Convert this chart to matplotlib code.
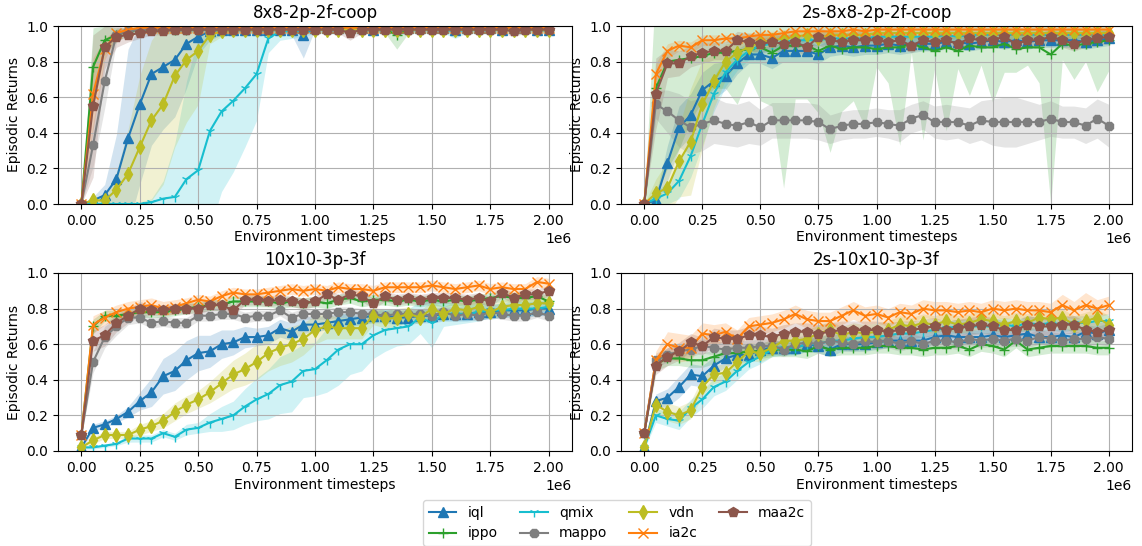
import matplotlib
matplotlib.use("Agg")
import matplotlib.pyplot as plt
import numpy as np

# x grid: evaluation every 50k env steps
STEPS = np.arange(0, 2_000_001, 50_000)

ALGOS = ["iql", "ippo", "qmix", "mappo", "vdn", "ia2c", "maa2c"]
COLORS = {
    "iql": "tab:blue", "ippo": "tab:green", "qmix": "tab:cyan", "mappo": "tab:gray",
    "vdn": "tab:olive", "ia2c": "tab:orange", "maa2c": "tab:brown",
}
MARKERS = {"iql": "^", "ippo": "+", "qmix": "1", "mappo": "8", "vdn": "d", "ia2c": "x", "maa2c": "p"}

TITLES = ["8x8-2p-2f-coop", "2s-8x8-2p-2f-coop", "10x10-3p-3f", "2s-10x10-3p-3f"]

# ---- 8x8-2p-2f-coop ----
A_IQL = [0.00, 0.02, 0.05, 0.14, 0.37, 0.56, 0.73, 0.77, 0.81, 0.90,
         0.94, 0.97, 0.98, 0.98, 0.98, 0.98, 0.98, 0.98, 0.98, 0.95,
         0.99, 0.99, 0.99, 0.99, 0.99, 0.98, 0.99, 0.99, 0.99, 0.99,
         0.99, 0.99, 0.98, 0.99, 0.99, 0.99, 0.98, 0.99, 0.99, 0.98, 0.98]
A_IQL_SD = [0.00, 0.02, 0.06, 0.25, 0.50, 0.45, 0.40, 0.35, 0.32, 0.25,
            0.10, 0.05, 0.03, 0.02, 0.02, 0.02, 0.02, 0.02, 0.03, 0.13,
            0.01, 0.01, 0.01, 0.01, 0.01, 0.01, 0.01, 0.01, 0.01, 0.01,
            0.01, 0.01, 0.03, 0.01, 0.01, 0.01, 0.01, 0.01, 0.01, 0.01, 0.01]
A_IPPO = [0.00, 0.77, 0.92, 0.95, 0.97, 0.98, 0.98, 0.98, 0.98, 0.98,
          0.98, 0.98, 0.98, 0.98, 0.98, 0.98, 0.98, 0.98, 0.98, 0.98,
          0.99, 0.98, 0.99, 0.98, 0.98, 0.98, 0.98, 0.95, 0.98, 0.99,
          0.99, 0.98, 0.99, 0.98, 0.99, 0.98, 0.99, 0.98, 0.99, 0.98, 0.98]
A_IPPO_SD = [0.00, 0.22, 0.08, 0.04, 0.02, 0.02, 0.02, 0.02, 0.02, 0.02,
             0.01, 0.01, 0.01, 0.01, 0.01, 0.01, 0.01, 0.01, 0.01, 0.01,
             0.01, 0.01, 0.01, 0.01, 0.01, 0.01, 0.02, 0.08, 0.02, 0.01,
             0.01, 0.01, 0.01, 0.01, 0.01, 0.01, 0.01, 0.01, 0.01, 0.01, 0.01]
A_QMIX = [0.00, 0.00, 0.00, 0.00, 0.00, 0.00, 0.01, 0.03, 0.04, 0.14,
          0.19, 0.41, 0.52, 0.58, 0.65, 0.73, 0.93, 0.97, 0.97, 0.97,
          0.98, 0.98, 0.98, 0.98, 0.98, 0.98, 0.98, 0.98, 0.98, 0.98,
          0.98, 0.98, 0.97, 0.98, 0.98, 0.98, 0.98, 0.98, 0.98, 0.98, 0.98]
A_QMIX_SD = [0.00, 0.00, 0.00, 0.00, 0.00, 0.01, 0.02, 0.10, 0.30, 0.55,
             0.75, 0.55, 0.45, 0.40, 0.33, 0.26, 0.08, 0.05, 0.04, 0.03,
             0.02, 0.02, 0.02, 0.02, 0.02, 0.02, 0.02, 0.02, 0.02, 0.02,
             0.02, 0.02, 0.04, 0.02, 0.02, 0.02, 0.02, 0.02, 0.02, 0.02, 0.02]
A_MAPPO = [0.00, 0.33, 0.69, 0.95, 0.97, 0.98, 0.98, 0.98, 0.98, 0.98,
           0.98, 0.98, 0.98, 0.98, 0.98, 0.98, 0.98, 0.98, 0.98, 0.98,
           0.98, 0.98, 0.98, 0.98, 0.98, 0.98, 0.98, 0.98, 0.98, 0.98,
           0.98, 0.98, 0.98, 0.98, 0.98, 0.98, 0.98, 0.98, 0.98, 0.98, 0.98]
A_MAPPO_SD = [0.00, 0.12, 0.15, 0.04, 0.02, 0.01, 0.01, 0.01, 0.01, 0.01,
              0.01, 0.01, 0.01, 0.01, 0.01, 0.01, 0.01, 0.01, 0.01, 0.01,
              0.01, 0.01, 0.01, 0.01, 0.01, 0.01, 0.01, 0.01, 0.01, 0.01,
              0.01, 0.01, 0.01, 0.01, 0.01, 0.01, 0.01, 0.01, 0.01, 0.01, 0.01]
A_VDN = [0.00, 0.02, 0.02, 0.08, 0.17, 0.32, 0.47, 0.56, 0.72, 0.81,
         0.86, 0.95, 0.97, 0.98, 0.98, 0.98, 0.98, 0.98, 0.98, 0.98,
         0.98, 0.98, 0.98, 0.98, 0.98, 0.98, 0.98, 0.98, 0.98, 0.98,
         0.98, 0.98, 0.98, 0.98, 0.98, 0.98, 0.98, 0.98, 0.98, 0.98, 0.98]
A_VDN_SD = [0.00, 0.01, 0.02, 0.10, 0.25, 0.40, 0.45, 0.45, 0.40, 0.35,
            0.30, 0.05, 0.03, 0.02, 0.02, 0.02, 0.02, 0.02, 0.02, 0.02,
            0.02, 0.02, 0.02, 0.02, 0.02, 0.02, 0.02, 0.02, 0.02, 0.02,
            0.02, 0.02, 0.02, 0.02, 0.02, 0.02, 0.02, 0.02, 0.02, 0.02, 0.02]
A_IA2C = [0.00, 0.62, 0.87, 0.96, 0.98, 0.99, 0.99, 0.99, 0.99, 0.99,
          0.99, 0.99, 0.99, 0.99, 0.99, 0.99, 0.99, 0.99, 0.99, 0.99,
          0.99, 0.99, 0.99, 0.99, 0.99, 0.99, 0.99, 0.99, 0.99, 0.99,
          0.99, 0.99, 0.99, 0.99, 0.99, 0.99, 0.99, 0.99, 0.99, 0.99, 0.99]
A_IA2C_SD = [0.00, 0.20, 0.06, 0.02, 0.01, 0.01, 0.01, 0.01, 0.01, 0.01,
             0.01, 0.01, 0.01, 0.01, 0.01, 0.01, 0.01, 0.01, 0.01, 0.01,
             0.01, 0.01, 0.01, 0.01, 0.01, 0.01, 0.01, 0.01, 0.01, 0.01,
             0.01, 0.01, 0.01, 0.01, 0.01, 0.01, 0.01, 0.01, 0.01, 0.01, 0.01]
A_MAA2C = [0.00, 0.55, 0.88, 0.94, 0.95, 0.96, 0.97, 0.97, 0.98, 0.98,
           0.98, 0.98, 0.98, 0.98, 0.98, 0.98, 0.98, 0.98, 0.98, 0.98,
           0.98, 0.98, 0.98, 0.96, 0.98, 0.98, 0.98, 0.98, 0.98, 0.98,
           0.98, 0.98, 0.98, 0.98, 0.98, 0.98, 0.98, 0.97, 0.98, 0.98, 0.98]
A_MAA2C_SD = [0.00, 0.40, 0.12, 0.06, 0.04, 0.03, 0.02, 0.02, 0.02, 0.02,
              0.02, 0.02, 0.02, 0.02, 0.02, 0.02, 0.02, 0.02, 0.02, 0.02,
              0.02, 0.02, 0.02, 0.04, 0.02, 0.02, 0.02, 0.02, 0.02, 0.02,
              0.02, 0.02, 0.02, 0.02, 0.02, 0.02, 0.02, 0.03, 0.02, 0.02, 0.02]

# ---- 2s-8x8-2p-2f-coop ----
B_IQL = [0.00, 0.02, 0.23, 0.43, 0.50, 0.64, 0.69, 0.72, 0.79, 0.84,
         0.84, 0.82, 0.86, 0.86, 0.86, 0.84, 0.88, 0.89, 0.88, 0.89,
         0.89, 0.90, 0.89, 0.90, 0.90, 0.90, 0.91, 0.91, 0.90, 0.91,
         0.92, 0.91, 0.92, 0.91, 0.92, 0.92, 0.92, 0.92, 0.91, 0.92, 0.93]
B_IQL_SD = [0.00, 0.03, 0.10, 0.12, 0.12, 0.10, 0.10, 0.08, 0.06, 0.05,
            0.05, 0.06, 0.06, 0.06, 0.06, 0.05, 0.05, 0.05, 0.05, 0.05,
            0.05, 0.05, 0.05, 0.05, 0.04, 0.04, 0.04, 0.04, 0.04, 0.04,
            0.04, 0.04, 0.04, 0.04, 0.04, 0.04, 0.04, 0.04, 0.04, 0.04, 0.04]
B_IPPO = [0.00, 0.65, 0.80, 0.81, 0.82, 0.83, 0.85, 0.85, 0.86, 0.87,
          0.88, 0.85, 0.89, 0.89, 0.89, 0.86, 0.89, 0.87, 0.88, 0.88,
          0.87, 0.88, 0.88, 0.90, 0.88, 0.86, 0.88, 0.86, 0.89, 0.88,
          0.88, 0.90, 0.87, 0.88, 0.88, 0.84, 0.90, 0.89, 0.90, 0.91, 0.92]
B_IPPO_SD = [0.00, 0.60, 0.60, 0.50, 0.35, 0.25, 0.20, 0.20, 0.30, 0.15,
             0.30, 0.30, 0.80, 0.30, 0.30, 0.35, 0.60, 0.35, 0.30, 0.45,
             0.10, 0.20, 0.55, 0.05, 0.52, 0.10, 0.47, 0.10, 0.28, 0.10,
             0.31, 0.16, 0.13, 0.10, 0.20, 0.84, 0.09, 0.19, 0.10, 0.28, 0.17]
B_QMIX = [0.00, 0.03, 0.06, 0.13, 0.27, 0.45, 0.62, 0.74, 0.81, 0.86,
          0.89, 0.90, 0.91, 0.92, 0.92, 0.92, 0.93, 0.93, 0.93, 0.93,
          0.94, 0.94, 0.94, 0.94, 0.94, 0.94, 0.95, 0.94, 0.95, 0.95,
          0.95, 0.95, 0.95, 0.95, 0.95, 0.95, 0.95, 0.95, 0.95, 0.95, 0.95]
B_QMIX_SD = [0.00, 0.04, 0.06, 0.10, 0.12, 0.12, 0.10, 0.08, 0.06, 0.05,
             0.04, 0.04, 0.04, 0.03, 0.03, 0.03, 0.03, 0.03, 0.03, 0.03,
             0.03, 0.03, 0.03, 0.03, 0.03, 0.03, 0.03, 0.03, 0.03, 0.03,
             0.03, 0.03, 0.03, 0.03, 0.03, 0.03, 0.03, 0.03, 0.03, 0.03, 0.03]
B_MAPPO = [0.00, 0.56, 0.52, 0.47, 0.43, 0.45, 0.47, 0.45, 0.44, 0.46,
           0.43, 0.47, 0.47, 0.47, 0.47, 0.46, 0.42, 0.44, 0.45, 0.45,
           0.46, 0.45, 0.44, 0.48, 0.50, 0.46, 0.46, 0.46, 0.44, 0.47,
           0.46, 0.46, 0.46, 0.46, 0.46, 0.48, 0.46, 0.46, 0.44, 0.48, 0.44]
B_MAPPO_SD = [0.00, 0.08, 0.12, 0.15, 0.15, 0.15, 0.13, 0.12, 0.12, 0.12,
              0.10, 0.10, 0.10, 0.10, 0.10, 0.10, 0.08, 0.08, 0.08, 0.08,
              0.08, 0.08, 0.09, 0.08, 0.08, 0.09, 0.10, 0.09, 0.10, 0.11,
              0.13, 0.14, 0.14, 0.12, 0.10, 0.10, 0.09, 0.09, 0.10, 0.11, 0.12]
B_VDN = [0.00, 0.06, 0.09, 0.24, 0.35, 0.56, 0.69, 0.80, 0.85, 0.88,
         0.91, 0.92, 0.93, 0.94, 0.95, 0.93, 0.95, 0.95, 0.95, 0.95,
         0.96, 0.96, 0.96, 0.96, 0.96, 0.96, 0.96, 0.96, 0.96, 0.96,
         0.96, 0.96, 0.96, 0.96, 0.96, 0.96, 0.96, 0.96, 0.96, 0.96, 0.96]
B_VDN_SD = [0.00, 0.08, 0.15, 0.20, 0.30, 0.25, 0.15, 0.10, 0.06, 0.05,
            0.04, 0.04, 0.03, 0.03, 0.03, 0.03, 0.03, 0.03, 0.03, 0.03,
            0.03, 0.03, 0.03, 0.03, 0.03, 0.03, 0.03, 0.03, 0.03, 0.03,
            0.03, 0.03, 0.03, 0.03, 0.03, 0.03, 0.03, 0.03, 0.03, 0.03, 0.03]
B_IA2C = [0.00, 0.73, 0.86, 0.89, 0.88, 0.92, 0.92, 0.93, 0.93, 0.94,
          0.95, 0.95, 0.96, 0.97, 0.97, 0.97, 0.97, 0.97, 0.98, 0.97,
          0.98, 0.98, 0.98, 0.98, 0.98, 0.98, 0.98, 0.98, 0.98, 0.98,
          0.98, 0.98, 0.98, 0.98, 0.98, 0.98, 0.98, 0.98, 0.98, 0.98, 0.98]
B_IA2C_SD = [0.00, 0.06, 0.04, 0.03, 0.03, 0.03, 0.03, 0.02, 0.02, 0.02,
             0.02, 0.02, 0.02, 0.02, 0.02, 0.02, 0.02, 0.02, 0.02, 0.02,
             0.02, 0.02, 0.02, 0.02, 0.02, 0.02, 0.02, 0.02, 0.02, 0.02,
             0.02, 0.02, 0.02, 0.02, 0.02, 0.02, 0.02, 0.02, 0.02, 0.02, 0.02]
B_MAA2C = [0.00, 0.62, 0.79, 0.79, 0.83, 0.85, 0.86, 0.86, 0.92, 0.91,
           0.90, 0.91, 0.90, 0.91, 0.88, 0.94, 0.92, 0.91, 0.92, 0.92,
           0.92, 0.91, 0.92, 0.89, 0.92, 0.91, 0.92, 0.90, 0.93, 0.92,
           0.92, 0.94, 0.90, 0.92, 0.92, 0.94, 0.92, 0.90, 0.92, 0.93, 0.94]
B_MAA2C_SD = [0.00, 0.20, 0.08, 0.07, 0.06, 0.06, 0.05, 0.05, 0.05, 0.05,
              0.05, 0.05, 0.05, 0.05, 0.05, 0.05, 0.05, 0.05, 0.05, 0.05,
              0.04, 0.04, 0.04, 0.04, 0.04, 0.04, 0.04, 0.04, 0.04, 0.04,
              0.04, 0.04, 0.04, 0.04, 0.04, 0.04, 0.04, 0.04, 0.04, 0.04, 0.04]

# ---- 10x10-3p-3f ----
C_IQL = [0.02, 0.13, 0.15, 0.18, 0.22, 0.28, 0.33, 0.42, 0.45, 0.51,
         0.55, 0.56, 0.60, 0.61, 0.64, 0.64, 0.65, 0.69, 0.67, 0.71,
         0.71, 0.72, 0.73, 0.74, 0.75, 0.76, 0.76, 0.75, 0.75, 0.76,
         0.76, 0.77, 0.77, 0.77, 0.78, 0.78, 0.79, 0.79, 0.79, 0.80, 0.80]
C_IQL_SD = [0.01, 0.02, 0.02, 0.02, 0.03, 0.05, 0.08, 0.10, 0.11, 0.11,
            0.10, 0.09, 0.08, 0.07, 0.06, 0.05, 0.05, 0.05, 0.05, 0.05,
            0.04, 0.04, 0.04, 0.04, 0.04, 0.04, 0.04, 0.04, 0.04, 0.04,
            0.04, 0.04, 0.04, 0.04, 0.04, 0.04, 0.04, 0.04, 0.04, 0.04, 0.04]
C_IPPO = [0.09, 0.70, 0.76, 0.76, 0.77, 0.78, 0.78, 0.78, 0.79, 0.80,
          0.81, 0.82, 0.82, 0.84, 0.84, 0.84, 0.84, 0.83, 0.84, 0.83,
          0.84, 0.83, 0.85, 0.86, 0.84, 0.85, 0.85, 0.84, 0.85, 0.84,
          0.85, 0.84, 0.85, 0.84, 0.85, 0.86, 0.87, 0.86, 0.86, 0.87, 0.84]
C_IPPO_SD = [0.01, 0.04, 0.03, 0.03, 0.03, 0.03, 0.03, 0.03, 0.03, 0.03,
             0.03, 0.03, 0.03, 0.03, 0.03, 0.03, 0.03, 0.03, 0.03, 0.03,
             0.03, 0.03, 0.03, 0.03, 0.03, 0.03, 0.03, 0.03, 0.03, 0.03,
             0.03, 0.03, 0.03, 0.03, 0.03, 0.03, 0.03, 0.03, 0.03, 0.03, 0.03]
C_QMIX = [0.02, 0.02, 0.03, 0.04, 0.07, 0.07, 0.07, 0.10, 0.08, 0.12,
          0.13, 0.16, 0.18, 0.20, 0.25, 0.29, 0.32, 0.37, 0.39, 0.45,
          0.46, 0.51, 0.57, 0.60, 0.60, 0.65, 0.68, 0.69, 0.70, 0.75,
          0.72, 0.77, 0.77, 0.77, 0.78, 0.79, 0.79, 0.80, 0.80, 0.80, 0.81]
C_QMIX_SD = [0.01, 0.01, 0.01, 0.01, 0.02, 0.02, 0.02, 0.02, 0.02, 0.03,
             0.03, 0.05, 0.07, 0.08, 0.10, 0.12, 0.14, 0.16, 0.17, 0.15,
             0.15, 0.18, 0.20, 0.17, 0.15, 0.13, 0.12, 0.10, 0.10, 0.09,
             0.14, 0.07, 0.06, 0.05, 0.05, 0.04, 0.04, 0.04, 0.04, 0.04, 0.04]
C_MAPPO = [0.09, 0.50, 0.64, 0.70, 0.75, 0.75, 0.72, 0.73, 0.72, 0.72,
           0.76, 0.76, 0.77, 0.77, 0.75, 0.76, 0.76, 0.79, 0.75, 0.77,
           0.77, 0.77, 0.78, 0.78, 0.77, 0.77, 0.76, 0.77, 0.77, 0.77,
           0.76, 0.78, 0.76, 0.77, 0.76, 0.78, 0.77, 0.76, 0.76, 0.78, 0.76]
C_MAPPO_SD = [0.01, 0.06, 0.06, 0.05, 0.04, 0.03, 0.03, 0.03, 0.03, 0.03,
              0.03, 0.03, 0.03, 0.03, 0.03, 0.03, 0.03, 0.03, 0.03, 0.03,
              0.03, 0.03, 0.03, 0.03, 0.03, 0.03, 0.03, 0.03, 0.03, 0.03,
              0.03, 0.03, 0.03, 0.03, 0.03, 0.03, 0.03, 0.03, 0.03, 0.03, 0.03]
C_VDN = [0.02, 0.06, 0.09, 0.09, 0.09, 0.12, 0.14, 0.17, 0.22, 0.26,
         0.29, 0.33, 0.38, 0.43, 0.46, 0.50, 0.55, 0.58, 0.60, 0.63,
         0.68, 0.70, 0.69, 0.69, 0.69, 0.76, 0.74, 0.75, 0.77, 0.75,
         0.80, 0.77, 0.80, 0.79, 0.81, 0.78, 0.81, 0.82, 0.82, 0.83, 0.83]
C_VDN_SD = [0.01, 0.02, 0.02, 0.02, 0.02, 0.03, 0.03, 0.04, 0.05, 0.05,
            0.05, 0.06, 0.07, 0.08, 0.09, 0.10, 0.10, 0.10, 0.10, 0.09,
            0.08, 0.07, 0.06, 0.06, 0.06, 0.05, 0.05, 0.05, 0.04, 0.04,
            0.04, 0.04, 0.04, 0.04, 0.04, 0.04, 0.04, 0.04, 0.04, 0.04, 0.04]
C_IA2C = [0.09, 0.71, 0.75, 0.78, 0.80, 0.81, 0.82, 0.80, 0.81, 0.83,
          0.85, 0.84, 0.87, 0.89, 0.88, 0.88, 0.89, 0.90, 0.91, 0.90,
          0.91, 0.90, 0.92, 0.91, 0.91, 0.90, 0.92, 0.92, 0.92, 0.92,
          0.93, 0.92, 0.91, 0.92, 0.93, 0.91, 0.92, 0.91, 0.91, 0.95, 0.94]
C_IA2C_SD = [0.01, 0.05, 0.04, 0.04, 0.04, 0.04, 0.04, 0.04, 0.04, 0.03,
             0.03, 0.03, 0.03, 0.03, 0.03, 0.03, 0.03, 0.03, 0.03, 0.03,
             0.03, 0.03, 0.03, 0.03, 0.03, 0.03, 0.03, 0.03, 0.03, 0.03,
             0.03, 0.03, 0.03, 0.03, 0.03, 0.03, 0.03, 0.03, 0.03, 0.03, 0.03]
C_MAA2C = [0.09, 0.62, 0.65, 0.72, 0.76, 0.80, 0.79, 0.79, 0.80, 0.80,
           0.80, 0.82, 0.82, 0.79, 0.85, 0.85, 0.84, 0.85, 0.84, 0.83,
           0.84, 0.88, 0.85, 0.88, 0.87, 0.83, 0.87, 0.85, 0.86, 0.85,
           0.86, 0.86, 0.86, 0.85, 0.86, 0.84, 0.89, 0.86, 0.88, 0.88, 0.90]
C_MAA2C_SD = [0.01, 0.06, 0.06, 0.05, 0.04, 0.04, 0.03, 0.03, 0.03, 0.03,
              0.03, 0.03, 0.03, 0.03, 0.03, 0.03, 0.03, 0.03, 0.03, 0.03,
              0.03, 0.03, 0.03, 0.03, 0.03, 0.03, 0.03, 0.03, 0.03, 0.03,
              0.03, 0.03, 0.03, 0.03, 0.03, 0.03, 0.03, 0.03, 0.03, 0.03, 0.03]

# ---- 2s-10x10-3p-3f ----
D_IQL = [0.02, 0.28, 0.30, 0.36, 0.43, 0.42, 0.48, 0.52, 0.54, 0.54,
         0.57, 0.58, 0.58, 0.58, 0.60, 0.59, 0.57, 0.60, 0.60, 0.60,
         0.61, 0.62, 0.62, 0.62, 0.62, 0.64, 0.65, 0.64, 0.64, 0.64,
         0.65, 0.64, 0.65, 0.66, 0.64, 0.64, 0.65, 0.64, 0.67, 0.66, 0.68]
D_IQL_SD = [0.01, 0.04, 0.05, 0.06, 0.06, 0.06, 0.05, 0.05, 0.04, 0.04,
            0.04, 0.04, 0.04, 0.04, 0.04, 0.04, 0.04, 0.04, 0.04, 0.04,
            0.04, 0.04, 0.04, 0.04, 0.04, 0.04, 0.04, 0.04, 0.04, 0.04,
            0.04, 0.04, 0.04, 0.04, 0.04, 0.04, 0.04, 0.04, 0.04, 0.04, 0.04]
D_IPPO = [0.10, 0.49, 0.52, 0.52, 0.51, 0.51, 0.53, 0.55, 0.55, 0.56,
          0.56, 0.57, 0.57, 0.57, 0.56, 0.59, 0.57, 0.58, 0.58, 0.58,
          0.59, 0.59, 0.58, 0.58, 0.57, 0.58, 0.58, 0.59, 0.57, 0.60,
          0.59, 0.57, 0.62, 0.57, 0.58, 0.59, 0.59, 0.59, 0.59, 0.58, 0.58]
D_IPPO_SD = [0.01, 0.04, 0.04, 0.04, 0.04, 0.04, 0.04, 0.04, 0.04, 0.04,
             0.04, 0.04, 0.04, 0.04, 0.04, 0.04, 0.04, 0.04, 0.04, 0.04,
             0.04, 0.04, 0.04, 0.04, 0.04, 0.04, 0.04, 0.04, 0.04, 0.04,
             0.04, 0.04, 0.04, 0.04, 0.04, 0.04, 0.04, 0.04, 0.04, 0.04, 0.04]
D_QMIX = [0.02, 0.20, 0.18, 0.17, 0.24, 0.29, 0.36, 0.39, 0.45, 0.50,
          0.53, 0.57, 0.58, 0.58, 0.60, 0.60, 0.62, 0.62, 0.63, 0.64,
          0.64, 0.65, 0.66, 0.66, 0.67, 0.68, 0.69, 0.70, 0.70, 0.70,
          0.70, 0.71, 0.70, 0.72, 0.71, 0.72, 0.71, 0.72, 0.72, 0.73, 0.73]
D_QMIX_SD = [0.01, 0.04, 0.04, 0.05, 0.05, 0.05, 0.05, 0.05, 0.05, 0.04,
             0.04, 0.04, 0.04, 0.04, 0.04, 0.04, 0.04, 0.04, 0.04, 0.04,
             0.04, 0.04, 0.04, 0.04, 0.04, 0.04, 0.04, 0.04, 0.04, 0.04,
             0.04, 0.04, 0.04, 0.04, 0.04, 0.04, 0.04, 0.04, 0.04, 0.04, 0.04]
D_MAPPO = [0.10, 0.51, 0.54, 0.56, 0.57, 0.59, 0.58, 0.57, 0.58, 0.58,
           0.59, 0.59, 0.57, 0.60, 0.61, 0.60, 0.62, 0.61, 0.60, 0.62,
           0.61, 0.62, 0.60, 0.62, 0.60, 0.62, 0.62, 0.61, 0.63, 0.62,
           0.63, 0.62, 0.63, 0.62, 0.64, 0.63, 0.62, 0.63, 0.63, 0.64, 0.63]
D_MAPPO_SD = [0.01, 0.04, 0.04, 0.04, 0.04, 0.04, 0.04, 0.04, 0.04, 0.04,
              0.04, 0.04, 0.04, 0.04, 0.04, 0.04, 0.04, 0.04, 0.04, 0.04,
              0.04, 0.04, 0.04, 0.04, 0.04, 0.04, 0.04, 0.04, 0.04, 0.04,
              0.04, 0.04, 0.04, 0.04, 0.04, 0.04, 0.04, 0.04, 0.04, 0.04, 0.04]
D_VDN = [0.02, 0.26, 0.22, 0.20, 0.23, 0.36, 0.43, 0.44, 0.50, 0.56,
         0.55, 0.58, 0.62, 0.62, 0.63, 0.66, 0.68, 0.65, 0.67, 0.66,
         0.67, 0.68, 0.71, 0.70, 0.72, 0.71, 0.73, 0.71, 0.72, 0.74,
         0.73, 0.71, 0.73, 0.72, 0.75, 0.74, 0.75, 0.71, 0.73, 0.75, 0.71]
D_VDN_SD = [0.01, 0.05, 0.05, 0.05, 0.05, 0.05, 0.05, 0.05, 0.05, 0.05,
            0.05, 0.05, 0.05, 0.05, 0.05, 0.05, 0.05, 0.05, 0.05, 0.05,
            0.05, 0.05, 0.05, 0.05, 0.05, 0.05, 0.05, 0.05, 0.05, 0.05,
            0.05, 0.05, 0.05, 0.05, 0.05, 0.05, 0.05, 0.05, 0.05, 0.05, 0.05]
D_IA2C = [0.10, 0.51, 0.60, 0.58, 0.58, 0.66, 0.65, 0.67, 0.63, 0.70,
          0.71, 0.72, 0.74, 0.77, 0.74, 0.73, 0.73, 0.76, 0.79, 0.76,
          0.77, 0.75, 0.78, 0.77, 0.80, 0.79, 0.79, 0.78, 0.79, 0.78,
          0.80, 0.79, 0.80, 0.79, 0.79, 0.78, 0.82, 0.79, 0.82, 0.80, 0.82]
D_IA2C_SD = [0.01, 0.05, 0.07, 0.08, 0.07, 0.06, 0.06, 0.05, 0.05, 0.05,
             0.05, 0.05, 0.05, 0.05, 0.05, 0.05, 0.05, 0.05, 0.05, 0.05,
             0.05, 0.05, 0.05, 0.05, 0.05, 0.05, 0.05, 0.05, 0.05, 0.05,
             0.05, 0.05, 0.05, 0.05, 0.05, 0.05, 0.06, 0.05, 0.07, 0.05, 0.05]
D_MAA2C = [0.10, 0.48, 0.53, 0.56, 0.61, 0.59, 0.64, 0.63, 0.63, 0.65,
           0.65, 0.64, 0.66, 0.67, 0.67, 0.66, 0.67, 0.68, 0.68, 0.68,
           0.68, 0.67, 0.68, 0.68, 0.69, 0.70, 0.68, 0.69, 0.70, 0.71,
           0.70, 0.68, 0.68, 0.71, 0.70, 0.70, 0.71, 0.71, 0.68, 0.67, 0.68]
D_MAA2C_SD = [0.01, 0.05, 0.05, 0.05, 0.05, 0.05, 0.05, 0.05, 0.05, 0.05,
              0.05, 0.05, 0.05, 0.05, 0.05, 0.05, 0.05, 0.05, 0.05, 0.05,
              0.05, 0.05, 0.05, 0.05, 0.05, 0.05, 0.05, 0.05, 0.05, 0.05,
              0.05, 0.05, 0.05, 0.05, 0.05, 0.05, 0.05, 0.05, 0.05, 0.05, 0.05]

PANELS = [
    {"iql": (A_IQL, A_IQL_SD), "ippo": (A_IPPO, A_IPPO_SD), "qmix": (A_QMIX, A_QMIX_SD),
     "mappo": (A_MAPPO, A_MAPPO_SD), "vdn": (A_VDN, A_VDN_SD), "ia2c": (A_IA2C, A_IA2C_SD),
     "maa2c": (A_MAA2C, A_MAA2C_SD)},
    {"iql": (B_IQL, B_IQL_SD), "ippo": (B_IPPO, B_IPPO_SD), "qmix": (B_QMIX, B_QMIX_SD),
     "mappo": (B_MAPPO, B_MAPPO_SD), "vdn": (B_VDN, B_VDN_SD), "ia2c": (B_IA2C, B_IA2C_SD),
     "maa2c": (B_MAA2C, B_MAA2C_SD)},
    {"iql": (C_IQL, C_IQL_SD), "ippo": (C_IPPO, C_IPPO_SD), "qmix": (C_QMIX, C_QMIX_SD),
     "mappo": (C_MAPPO, C_MAPPO_SD), "vdn": (C_VDN, C_VDN_SD), "ia2c": (C_IA2C, C_IA2C_SD),
     "maa2c": (C_MAA2C, C_MAA2C_SD)},
    {"iql": (D_IQL, D_IQL_SD), "ippo": (D_IPPO, D_IPPO_SD), "qmix": (D_QMIX, D_QMIX_SD),
     "mappo": (D_MAPPO, D_MAPPO_SD), "vdn": (D_VDN, D_VDN_SD), "ia2c": (D_IA2C, D_IA2C_SD),
     "maa2c": (D_MAA2C, D_MAA2C_SD)},
]

fig = plt.figure(figsize=(11.42, 5.46), dpi=100)
W, H = 1142, 546
# axes boxes in pixels: (left, top, right, bottom)
BOXES = [(58, 26, 572, 204), (621, 26, 1132, 204), (58, 273, 572, 451), (621, 273, 1132, 451)]

handles = []
for i, (title, panel, box) in enumerate(zip(TITLES, PANELS, BOXES)):
    l, t, r, b = box
    ax = fig.add_axes([l / W, 1 - b / H, (r - l) / W, (b - t) / H])
    for algo in ALGOS:
        mean, sd = panel[algo]
        mean = np.asarray(mean)
        sd = np.asarray(sd)
        line, = ax.plot(STEPS, mean, color=COLORS[algo], marker=MARKERS[algo],
                        markersize=7, linewidth=1.5, label=algo)
        ax.fill_between(STEPS, mean - sd, mean + sd, color=COLORS[algo], alpha=0.2, linewidth=0)
        if i == 0:
            handles.append(line)
    ax.set_ylim(0, 1)
    ax.set_title(title, fontsize=12)
    ax.set_xlabel("Environment timesteps", labelpad=2)
    ax.set_ylabel("Episodic Returns")
    ax.grid(True)

fig.legend(handles, ALGOS, loc="center", ncol=4, columnspacing=1.6,
           bbox_to_anchor=(617 / W, 1 - 523 / H))
fig.savefig("out.png", dpi=100)
